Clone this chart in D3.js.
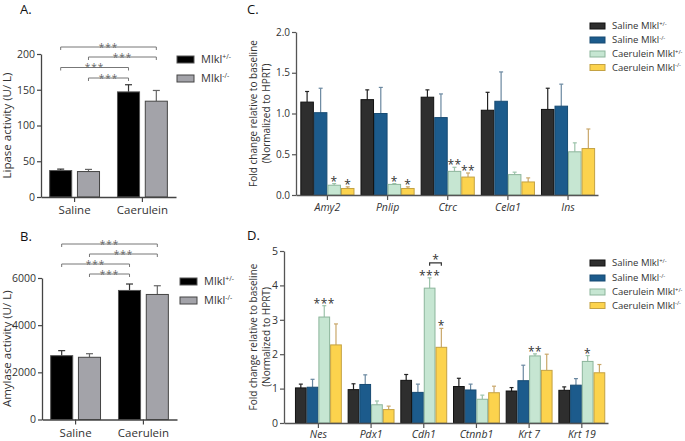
<!DOCTYPE html>
<html>
<head>
<meta charset="utf-8">
<script src="https://cdn.jsdelivr.net/npm/d3@7"></script>
<style>
body { margin: 0; background: #fff; }
text { font-family: "Open Sans", "Noto Sans", sans-serif; }
</style>
</head>
<body>
<svg id="fig" width="685" height="441"></svg>
<script>
// ---- panels A / B ----
var groupsAB = ["Saline", "Caerulein"];
var genoAB = ["+/-", "-/-"];
var lipaseHet = [37, 147], lipaseHetSem = [2, 10];
var lipaseKo = [35.6, 134], lipaseKoSem = [3, 15];
var amylaseHet = [2706, 5472], amylaseHetSem = [214, 273];
var amylaseKo = [2638, 5302], amylaseKoSem = [152, 370];
var ticksA = [0, 50, 100, 150, 200];
var ticksB = [0, 2000, 4000, 6000];
// pairs compared: [group, genotype] -> [group, genotype]
var pairsAB = [[[0, 0], [1, 1]], [[0, 1], [1, 1]], [[0, 0], [1, 0]], [[0, 1], [1, 0]]];
var pairStarsAB = ["***", "***", "***", "***"];

// ---- panels C / D ----
var seriesNames = ["Saline Mlkl", "Saline Mlkl", "Caerulein Mlkl", "Caerulein Mlkl"];
var seriesSup = ["+/-", "-/-", "+/-", "-/-"];

var genesC = ["Amy2", "Pnlip", "Ctrc", "Cela1", "Ins"];
var salHetC = [1.14, 1.17, 1.20, 1.04, 1.05], salHetSemC = [0.13, 0.12, 0.09, 0.22, 0.26];
var salKoC = [1.01, 1.00, 0.95, 1.15, 1.09], salKoSemC = [0.30, 0.32, 0.29, 0.36, 0.27];
var caeHetC = [0.12, 0.13, 0.29, 0.25, 0.53], caeHetSemC = [0.02, 0.01, 0.05, 0.03, 0.11];
var caeKoC = [0.08, 0.08, 0.22, 0.16, 0.57], caeKoSemC = [0.02, 0.02, 0.05, 0.05, 0.24];
var caeHetStarsC = ["*", "*", "**", "", ""];
var caeKoStarsC = ["*", "*", "**", "", ""];
var ticksC = [0, 0.5, 1, 1.5, 2];

var genesD = ["Nes", "Pdx1", "Cdh1", "Ctnnb1", "Krt 7", "Krt 19"];
var salHetD = [1.02, 0.97, 1.24, 1.06, 0.93, 0.95], salHetSemD = [0.11, 0.17, 0.17, 0.24, 0.10, 0.10];
var salKoD = [1.04, 1.12, 0.89, 0.96, 1.23, 1.10], salKoSemD = [0.23, 0.28, 0.24, 0.17, 0.45, 0.19];
var caeHetD = [3.08, 0.53, 3.92, 0.69, 1.95, 1.79], caeHetSemD = [0.33, 0.11, 0.30, 0.12, 0.06, 0.17];
var caeKoD = [2.27, 0.39, 2.20, 0.88, 1.53, 1.46], caeKoSemD = [0.61, 0.10, 0.55, 0.19, 0.47, 0.24];
var caeHetStarsD = ["***", "", "***", "", "**", "*"];
var caeKoStarsD = ["", "", "*", "", "", ""];
var ticksD = [0, 1, 2, 3, 4, 5];

var svg = d3.select("#fig");

function drawPanel(p) {
    var g = svg.append("g");
    var x0 = d3.scaleBand().domain(p.cats).range(p.xr)
        .paddingInner(p.pi).paddingOuter(p.po).align(p.align);
    var x1 = d3.scaleBand().domain(d3.range(p.series.length))
        .range([0, x0.bandwidth()]).paddingInner(p.bi);
    var y = d3.scaleLinear().domain(p.yd).range(p.yr);
    var bx = function(c, si) { return x0(c) + x1(si); };
    var bw = x1.bandwidth();

    p.series.forEach(function(s, si) {
        var sg = g.append("g");
        var rows = p.cats.map(function(c, i) {
            return {c: c, m: s.mean[i], e: s.sem[i], st: s.stars ? s.stars[i] : ""};
        });
        // whiskers
        sg.selectAll(".wh").data(rows).enter().append("line")
            .attr("x1", d => bx(d.c, si) + bw / 2).attr("x2", d => bx(d.c, si) + bw / 2)
            .attr("y1", d => y(d.m)).attr("y2", d => y(d.m + d.e))
            .attr("stroke", s.err).attr("stroke-width", 1.2);
        sg.selectAll(".cap").data(rows).enter().append("line")
            .attr("x1", d => bx(d.c, si) + bw / 2 - p.cap).attr("x2", d => bx(d.c, si) + bw / 2 + p.cap)
            .attr("y1", d => y(d.m + d.e)).attr("y2", d => y(d.m + d.e))
            .attr("stroke", s.err).attr("stroke-width", 1.2);
        sg.selectAll("rect").data(rows).enter().append("rect")
            .attr("x", d => bx(d.c, si) + 0.5).attr("width", bw - 1)
            .attr("y", d => y(d.m)).attr("height", d => y(0) - y(d.m))
            .attr("fill", s.fill).attr("stroke", s.stroke).attr("stroke-width", 1);
        sg.selectAll(".star").data(rows.filter(d => d.st)).enter().append("text")
            .attr("x", d => bx(d.c, si) + bw / 2).attr("y", d => y(d.m + d.e) + 2)
            .attr("text-anchor", "middle").attr("font-size", 12).attr("fill", "#333")
            .attr("letter-spacing", "0.5")
            .text(d => d.st);
    });

    // y axis
    var ya = g.append("g").attr("transform", "translate(" + p.xr[0] + ",0)")
        .call(d3.axisLeft(y).tickValues(p.ticks).tickFormat(p.fmt).tickSize(4).tickSizeOuter(0).tickPadding(2));
    // x axis
    var xa = g.append("g").attr("transform", "translate(0," + y(0) + ")")
        .call(d3.axisBottom(x0).tickSize(5).tickSizeOuter(0).tickPadding(p.xpad));
    [ya, xa].forEach(function(a) {
        a.select(".domain").attr("stroke", p.axis).attr("stroke-width", 1.3);
        a.selectAll(".tick line").attr("stroke", p.axis).attr("stroke-width", 1.2);
        a.selectAll("text").attr("fill", "#333").style("font-family", "'Open Sans', sans-serif");
    });
    ya.selectAll("text").attr("font-size", p.tickFs);
    xa.selectAll("text").attr("font-size", p.catFs).attr("font-style", p.italic ? "italic" : null);

    // y label (one or two lines)
    var cy = (p.yr[0] + p.yr[1]) / 2;
    p.ylab.forEach(function(t, i) {
        g.append("text")
            .attr("transform", "translate(" + p.ylx[i] + "," + cy + ") rotate(-90)")
            .attr("text-anchor", "middle").attr("font-size", p.ylFs).attr("fill", "#333")
            .text(t);
    });

    // panel letter
    g.append("text").attr("x", p.letter[1]).attr("y", p.letter[2])
        .attr("font-size", 13).attr("fill", "#111").text(p.letter[0]);

    return {x0: x0, x1: x1, y: y, g: g};
}

function legend(items, x, ys, w, h, fs) {
    var lg = svg.append("g");
    items.forEach(function(it, i) {
        lg.append("rect").attr("x", x).attr("y", ys[i]).attr("width", w).attr("height", h)
            .attr("fill", it.fill).attr("stroke", it.stroke).attr("stroke-width", 1);
        var t = lg.append("text").attr("x", x + w + 7).attr("y", ys[i] + h / 2 + fs * 0.36)
            .attr("font-size", fs).attr("fill", "#333");
        t.append("tspan").text(it.name);
        t.append("tspan").attr("dy", -fs * 0.4).attr("font-size", fs * 0.62).text(it.sup);
    });
}

function brackets(pan, rows, pairs, stars) {
    var cx = function(gi, si) {
        return pan.x0(pan.x0.domain()[gi]) + pan.x1(si) + pan.x1.bandwidth() / 2;
    };
    pairs.forEach(function(pr, i) {
        var xa = cx(pr[0][0], pr[0][1]), xb = cx(pr[1][0], pr[1][1]), yy = rows[i];
        pan.g.append("path")
            .attr("d", "M" + xa + "," + (yy + 3) + "V" + yy + "H" + xb + "V" + (yy + 3))
            .attr("fill", "none").attr("stroke", "#777").attr("stroke-width", 1);
        pan.g.append("text").attr("x", (xa + xb) / 2).attr("y", yy + 3.5)
            .attr("text-anchor", "middle").attr("font-size", 10).attr("fill", "#666")
            .attr("letter-spacing", "1").text(stars[i]);
    });
}

var abStyle = [
    {fill: "#000", stroke: "#555", err: "#333"},
    {fill: "#a3a3a9", stroke: "#444", err: "#666"}
];
var cdStyle = [
    {fill: "#2e2e2e", stroke: "#111", err: "#222"},
    {fill: "#1c5b8c", stroke: "#174b73", err: "#6a88a0"},
    {fill: "#c6e6d2", stroke: "#8cb59b", err: "#9cc3aa"},
    {fill: "#fcd34d", stroke: "#c4a243", err: "#c9a76a"}
];

function mk(style, mean, sem, stars) {
    return {fill: style.fill, stroke: style.stroke, err: style.err, mean: mean, sem: sem, stars: stars};
}

// A
var pA = drawPanel({
    cats: groupsAB, xr: [41, 176], yr: [197, 54], yd: [0, 200], ticks: ticksA, fmt: d3.format("d"),
    pi: 0.25, po: 0.12, align: 0.5, bi: 0.17, cap: 3.5, axis: "#444", tickFs: 10.5, catFs: 11.5, xpad: 4,
    ylab: ["Lipase activity (U/ L)"], ylx: [11], ylFs: 11.5, italic: false, letter: ["A.", 20, 14],
    series: [mk(abStyle[0], lipaseHet, lipaseHetSem), mk(abStyle[1], lipaseKo, lipaseKoSem)]
});
brackets(pA, [47, 57, 67.5, 78], pairsAB, pairStarsAB);
legend(genoAB.map((s, i) => ({name: "Mlkl", sup: s, fill: abStyle[i].fill, stroke: abStyle[i].stroke})),
    177, [56, 75], 17, 7, 11);

// B
var pB = drawPanel({
    cats: groupsAB, xr: [42, 177], yr: [419.5, 278], yd: [0, 6000], ticks: ticksB, fmt: d3.format("d"),
    pi: 0.25, po: 0.12, align: 0.5, bi: 0.17, cap: 3.5, axis: "#444", tickFs: 10.5, catFs: 11.5, xpad: 4,
    ylab: ["Amylase activity (U/ L)"], ylx: [11], ylFs: 11.5, italic: false, letter: ["B.", 20, 241],
    series: [mk(abStyle[0], amylaseHet, amylaseHetSem), mk(abStyle[1], amylaseKo, amylaseKoSem)]
});
brackets(pB, [244, 254, 264, 274], pairsAB, pairStarsAB);
legend(genoAB.map((s, i) => ({name: "Mlkl", sup: s, fill: abStyle[i].fill, stroke: abStyle[i].stroke})),
    180, [278, 297], 17, 7, 11);

// C
var pC = drawPanel({
    cats: genesC, xr: [296, 598], yr: [195, 32], yd: [0, 2], ticks: ticksC, fmt: d3.format(".1f"),
    pi: 0.1, po: 0.06, align: 0.6, bi: 0, cap: 2, axis: "#555", tickFs: 10, catFs: 10.5, xpad: 4,
    ylab: ["Fold change relative to baseline", "(Normalized to HPRT)"], ylx: [257, 270], ylFs: 10,
    italic: true, letter: ["C.", 247, 14],
    series: [mk(cdStyle[0], salHetC, salHetSemC), mk(cdStyle[1], salKoC, salKoSemC),
             mk(cdStyle[2], caeHetC, caeHetSemC, caeHetStarsC), mk(cdStyle[3], caeKoC, caeKoSemC, caeKoStarsC)]
});
legend(seriesNames.map((s, i) => ({name: s, sup: seriesSup[i], fill: cdStyle[i].fill, stroke: cdStyle[i].stroke})),
    590, [23, 37, 51, 64.5], 15, 6, 9.5);

// D
var pD = drawPanel({
    cats: genesD, xr: [284, 608], yr: [423, 251], yd: [0, 5], ticks: ticksD, fmt: d3.format("d"),
    pi: 0.11, po: 0.13, align: 0.8, bi: 0, cap: 2, axis: "#555", tickFs: 10.5, catFs: 10.5, xpad: 3,
    ylab: ["Fold change relative to baseline", "(Normalized to HPRT)"], ylx: [257, 270], ylFs: 10,
    italic: true, letter: ["D.", 247, 240],
    series: [mk(cdStyle[0], salHetD, salHetSemD), mk(cdStyle[1], salKoD, salKoSemD),
             mk(cdStyle[2], caeHetD, caeHetSemD, caeHetStarsD), mk(cdStyle[3], caeKoD, caeKoSemD, caeKoStarsD)]
});
legend(seriesNames.map((s, i) => ({name: s, sup: seriesSup[i], fill: cdStyle[i].fill, stroke: cdStyle[i].stroke})),
    590, [260, 275, 289, 302.5], 15, 6, 9.5);

// Cdh1: Caerulein Mlkl+/- vs Caerulein Mlkl-/-
(function() {
    var c = genesD[2];
    var xa = pD.x0(c) + pD.x1(2) + pD.x1.bandwidth() / 2;
    var xb = pD.x0(c) + pD.x1(3) + pD.x1.bandwidth() / 2;
    var yy = pD.y(caeHetD[2] + caeHetSemD[2]) - 15;
    pD.g.append("path").attr("d", "M" + xa + "," + (yy + 3) + "V" + yy + "H" + xb + "V" + (yy + 3))
        .attr("fill", "none").attr("stroke", "#333").attr("stroke-width", 1.2);
    pD.g.append("text").attr("x", (xa + xb) / 2).attr("y", yy + 1).attr("text-anchor", "middle")
        .attr("font-size", 12).attr("fill", "#333").text("*");
})();
</script>
</body>
</html>
